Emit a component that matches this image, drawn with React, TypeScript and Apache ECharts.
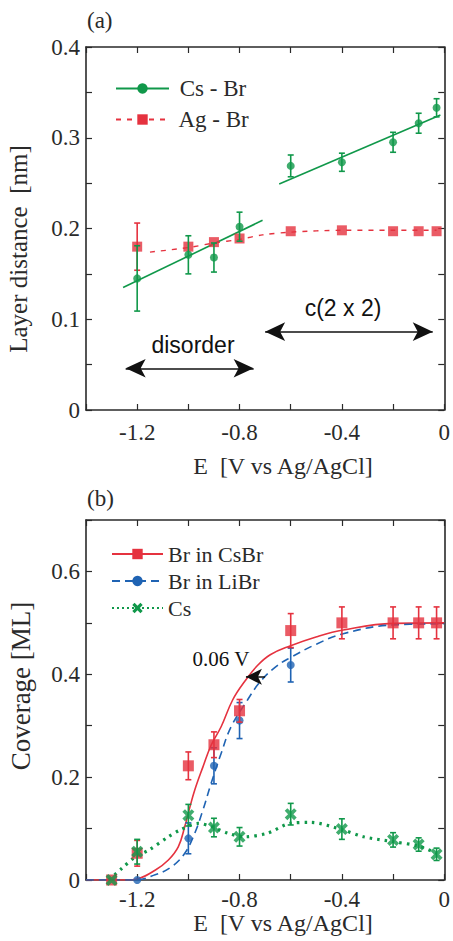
import React, { useEffect, useRef } from "react";
import * as echarts from "echarts";

// ---------- Panel (a) data ----------
const aX = [-1.2, -1.0, -0.9, -0.8, -0.6, -0.4, -0.2, -0.1, -0.03];
const csBrY = [0.145, 0.171, 0.168, 0.202, 0.269, 0.273, 0.295, 0.316, 0.333];
const csBrErr = [0.036, 0.021, 0.016, 0.016, 0.012, 0.01, 0.011, 0.011, 0.01];
const agBrY = [0.18, 0.18, 0.185, 0.189, 0.197, 0.198, 0.197, 0.197, 0.197];
const agBrErr = [0.026, 0, 0, 0, 0, 0, 0, 0, 0];
const csFit1X = [-1.255, -0.71];
const csFit1Y = [0.135, 0.209];
const csFit2X = [-0.645, -0.015];
const csFit2Y = [0.249, 0.325];
const agFitX = [-1.15, -1.0, -0.9, -0.8, -0.71, -0.6, -0.4, -0.2, -0.03];
const agFitY = [0.174, 0.179, 0.184, 0.188, 0.193, 0.196, 0.198, 0.198, 0.198];

// ---------- Panel (b) data ----------
const bX = [-1.3, -1.2, -1.0, -0.9, -0.8, -0.6, -0.4, -0.2, -0.1, -0.03];
const brCsY = [0, 0.052, 0.222, 0.263, 0.329, 0.485, 0.5, 0.5, 0.5, 0.5];
const brCsErr = [0, 0.025, 0.027, 0.025, 0.022, 0.033, 0.031, 0.031, 0.031, 0.031];
const brLiX = [-1.2, -1.0, -0.9, -0.8, -0.6];
const brLiY = [0, 0.081, 0.222, 0.31, 0.418];
const brLiErr = [0, 0.03, 0.035, 0.035, 0.033];
const csY = [0, 0.055, 0.126, 0.102, 0.084, 0.128, 0.099, 0.078, 0.069, 0.05];
const csErr = [0, 0.024, 0.021, 0.018, 0.018, 0.021, 0.02, 0.014, 0.013, 0.012];

const redFitX = [-1.4, -1.25, -1.194, -1.13, -1.078, -1.039, -1.014, -0.995, -0.975, -0.943, -0.911, -0.872, -0.827, -0.78, -0.73, -0.68, -0.603, -0.498, -0.395, -0.2, 0];
const redFitY = [0, 0, 0.003, 0.019, 0.039, 0.065, 0.104, 0.14, 0.175, 0.22, 0.262, 0.298, 0.35, 0.386, 0.417, 0.438, 0.455, 0.473, 0.486, 0.499, 0.5];
const blueFitX = [-1.4, -1.21, -1.13, -1.065, -1.014, -0.975, -0.943, -0.911, -0.872, -0.833, -0.769, -0.72, -0.66, -0.603, -0.498, -0.395, -0.2, 0];
const blueFitY = [0, 0, 0.01, 0.026, 0.052, 0.091, 0.136, 0.188, 0.246, 0.298, 0.35, 0.385, 0.414, 0.432, 0.459, 0.479, 0.496, 0.498];
const greenFitX = [-1.31, -1.259, -1.207, -1.155, -1.078, -1.033, -0.962, -0.911, -0.846, -0.781, -0.691, -0.603, -0.523, -0.4, -0.315, -0.2, -0.1, -0.03];
const greenFitY = [0, 0.023, 0.045, 0.058, 0.084, 0.097, 0.11, 0.104, 0.091, 0.084, 0.091, 0.11, 0.112, 0.098, 0.084, 0.0745, 0.066, 0.052];

// tick settings
const xMin = -1.4, xMax = 0, xStep = 0.2;
const aYMax = 0.4, aYStep = 0.05;
const bYMax = 0.7, bYStep = 0.1;

const GREEN = "#10984a";
const RED = "#e5323f";
const BLUE = "#1f63b3";
const INK = "#2a2a2a";
const SERIF = "'Liberation Serif', 'Times New Roman', serif";
const SANS = "'Liberation Sans', Arial, sans-serif";
const CROSS = "path://M2.2,0 L5,2.8 L7.8,0 L10,2.2 L7.2,5 L10,7.8 L7.8,10 L5,7.2 L2.2,10 L0,7.8 L2.8,5 L0,2.2 Z";

const zip = (xs: number[], ys: number[]) => xs.map((x, i) => [x, ys[i]]);
const zip3 = (xs: number[], ys: number[], es: number[]) => xs.map((x, i) => [x, ys[i], es[i]]);

function errorBars(data: number[][], color: string, xi: number, yi: number, z: number) {
  return {
    type: "custom",
    xAxisIndex: xi,
    yAxisIndex: yi,
    silent: true,
    z,
    data: data.filter((d) => d[2] > 0),
    renderItem: (_p: any, api: any) => {
      const x = api.value(0), y = api.value(1), e = api.value(2);
      const t = api.coord([x, y + e]);
      const b = api.coord([x, y - e]);
      const hw = 3;
      const st = { stroke: color, lineWidth: 1.6 };
      return {
        type: "group",
        children: [
          { type: "line", shape: { x1: t[0], y1: t[1], x2: b[0], y2: b[1] }, style: st },
          { type: "line", shape: { x1: t[0] - hw, y1: t[1], x2: t[0] + hw, y2: t[1] }, style: st },
          { type: "line", shape: { x1: b[0] - hw, y1: b[1], x2: b[0] + hw, y2: b[1] }, style: st },
        ],
      };
    },
  };
}

function xAxes(grid: number, labelMargin: number) {
  const common = {
    type: "value",
    gridIndex: grid,
    min: xMin,
    max: xMax,
    interval: xStep,
    splitLine: { show: false },
    axisLine: { show: true, onZero: false, lineStyle: { color: INK, width: 1.6 } },
    axisTick: { show: true, inside: true, length: 6, lineStyle: { color: INK, width: 1.2 } },
  };
  return [
    {
      ...common,
      position: "bottom",
      axisLabel: {
        margin: labelMargin,
        fontFamily: SERIF,
        fontSize: 23,
        color: INK,
        formatter: (v: number) => {
          const r = Math.round(v * 10);
          if (r % 4 !== 0) return "";
          return r === 0 ? "0" : v.toFixed(1);
        },
      },
    },
    { ...common, position: "top", axisLabel: { show: false } },
  ];
}

function yAxes(grid: number, max: number, step: number, labelEvery: number) {
  const common = {
    type: "value",
    gridIndex: grid,
    min: 0,
    max,
    interval: step,
    splitLine: { show: false },
    axisLine: { show: true, onZero: false, lineStyle: { color: INK, width: 1.6 } },
    axisTick: { show: true, inside: true, length: 6, lineStyle: { color: INK, width: 1.2 } },
  };
  return [
    {
      ...common,
      position: "left",
      axisLabel: {
        margin: 6,
        fontFamily: SERIF,
        fontSize: 23,
        color: INK,
        formatter: (v: number) => {
          const r = Math.round(v * 100);
          if (r % labelEvery !== 0) return "";
          return r === 0 ? "0" : v.toFixed(1);
        },
      },
    },
    { ...common, position: "right", axisLabel: { show: false } },
  ];
}

const arrowLine = { color: "#111", width: 1.5, type: "solid" };

export default function App() {
  const ref = useRef<HTMLDivElement>(null);
  useEffect(() => {
    if (!ref.current) return;
    const chart = echarts.init(ref.current, undefined, { renderer: "svg" });
    const option: any = {
      animation: false,
      backgroundColor: "#ffffff",
      grid: [
        { left: 86, right: 6, top: 47, height: 363 },
        { left: 86, right: 6, top: 520, height: 360 },
      ],
      xAxis: [...xAxes(0, 11), ...xAxes(1, 8)],
      yAxis: [...yAxes(0, aYMax, aYStep, 10), ...yAxes(1, bYMax, bYStep, 20)],
      legend: [
        {
          orient: "vertical",
          left: 110,
          top: 72,
          itemWidth: 53,
          itemHeight: 13,
          itemGap: 8,
          formatter: " {name}",
          textStyle: { fontFamily: SERIF, fontSize: 23, color: INK },
          data: ["Cs - Br", "Ag - Br"],
          selectedMode: false,
        },
        {
          orient: "vertical",
          left: 106,
          top: 538,
          itemWidth: 51,
          itemHeight: 13,
          itemGap: 5,
          formatter: "{name}",
          textStyle: { fontFamily: SERIF, fontSize: 22, color: INK },
          data: ["Br in CsBr", "Br in LiBr", "Cs"],
          selectedMode: false,
        },
      ],
      graphic: [
        { type: "text", left: 87, top: 9, style: { text: "(a)", font: `23px ${SERIF}`, fill: INK } },
        { type: "text", left: 87, top: 487, style: { text: "(b)", font: `23px ${SERIF}`, fill: INK } },
        {
          type: "text", x: 283, y: 466,
          style: { text: "E\u00a0 [V vs Ag/AgCl]", font: `24px ${SERIF}`, fill: INK, textAlign: "center", textVerticalAlign: "middle" },
        },
        {
          type: "text", x: 283, y: 923,
          style: { text: "E\u00a0 [V vs Ag/AgCl]", font: `24px ${SERIF}`, fill: INK, textAlign: "center", textVerticalAlign: "middle" },
        },
        {
          type: "text", x: 18, y: 249, rotation: Math.PI / 2,
          style: { text: "Layer distance\u00a0 [nm]", font: `25px ${SERIF}`, fill: INK, textAlign: "center", textVerticalAlign: "middle" },
        },
        {
          type: "text", x: 21, y: 686, rotation: Math.PI / 2,
          style: { text: "Coverage [ML]", font: `27px ${SERIF}`, fill: INK, textAlign: "center", textVerticalAlign: "middle" },
        },
        {
          type: "text", x: 193, y: 345,
          style: { text: "disorder", font: `23px ${SANS}`, fill: "#111", textAlign: "center", textVerticalAlign: "middle" },
        },
        {
          type: "text", x: 343, y: 308,
          style: { text: "c(2 x 2)", font: `23px ${SANS}`, fill: "#111", textAlign: "center", textVerticalAlign: "middle" },
        },
        {
          type: "text", x: 221, y: 659,
          style: { text: "0.06 V", font: `21px ${SERIF}`, fill: "#111", textAlign: "center", textVerticalAlign: "middle" },
        },
      ],
      series: [
        // legend-only series, panel (a)
        {
          name: "Cs - Br", type: "line", xAxisIndex: 0, yAxisIndex: 0, data: [],
          symbol: "circle", symbolSize: 11, itemStyle: { color: GREEN },
          lineStyle: { color: GREEN, width: 1.6, type: "solid" },
        },
        {
          name: "Ag - Br", type: "line", xAxisIndex: 0, yAxisIndex: 0, data: [],
          symbol: "rect", symbolSize: 12, itemStyle: { color: RED },
          lineStyle: { color: RED, width: 1.4, type: [5, 6] },
        },
        // fits panel (a)
        {
          type: "line", xAxisIndex: 0, yAxisIndex: 0, data: zip(csFit1X, csFit1Y), showSymbol: false,
          lineStyle: { color: GREEN, width: 1.6 }, z: 2, silent: true,
          markLine: {
            silent: true, symbol: ["arrow", "arrow"], symbolSize: [14, 20],
            lineStyle: arrowLine, label: { show: false },
            data: [
              [{ coord: [-1.245, 0.046] }, { coord: [-0.745, 0.046] }],
              [{ coord: [-0.70, 0.0863] }, { coord: [-0.045, 0.0863] }],
            ],
          },
        },
        {
          type: "line", xAxisIndex: 0, yAxisIndex: 0, data: zip(csFit2X, csFit2Y), showSymbol: false,
          lineStyle: { color: GREEN, width: 1.6 }, z: 2, silent: true,
        },
        {
          type: "line", xAxisIndex: 0, yAxisIndex: 0, data: zip(agFitX, agFitY), showSymbol: false, smooth: 0.3,
          lineStyle: { color: RED, width: 1.4, type: [5, 6] }, z: 2, silent: true,
        },
        errorBars(zip3(aX, agBrY, agBrErr), RED, 0, 0, 3),
        {
          type: "scatter", xAxisIndex: 0, yAxisIndex: 0, data: zip(aX, agBrY),
          symbol: "rect", symbolSize: 10, itemStyle: { color: RED }, z: 4, silent: true,
        },
        errorBars(zip3(aX, csBrY, csBrErr), GREEN, 0, 0, 5),
        {
          type: "scatter", xAxisIndex: 0, yAxisIndex: 0, data: zip(aX, csBrY),
          symbol: "circle", symbolSize: 8, itemStyle: { color: GREEN }, z: 6, silent: true,
        },

        // legend-only series, panel (b)
        {
          name: "Br in CsBr", type: "line", xAxisIndex: 2, yAxisIndex: 2, data: [],
          symbol: "rect", symbolSize: 12, itemStyle: { color: RED },
          lineStyle: { color: RED, width: 1.6, type: "solid" },
        },
        {
          name: "Br in LiBr", type: "line", xAxisIndex: 2, yAxisIndex: 2, data: [],
          symbol: "circle", symbolSize: 11, itemStyle: { color: BLUE },
          lineStyle: { color: BLUE, width: 1.6, type: [8, 5] },
        },
        {
          name: "Cs", type: "line", xAxisIndex: 2, yAxisIndex: 2, data: [],
          symbol: CROSS, symbolSize: 12, itemStyle: { color: GREEN },
          lineStyle: { color: GREEN, width: 1.6, type: [2, 3] },
        },
        // fits panel (b)
        {
          type: "line", xAxisIndex: 2, yAxisIndex: 2, data: zip(redFitX, redFitY), showSymbol: false, smooth: 0.4,
          lineStyle: { color: RED, width: 1.6 }, z: 2, silent: true,
          markLine: {
            silent: true, symbol: ["none", "arrow"], symbolSize: [12, 16],
            lineStyle: arrowLine, label: { show: false },
            data: [[{ coord: [-0.70, 0.395] }, { coord: [-0.775, 0.395] }]],
          },
        },
        {
          type: "line", xAxisIndex: 2, yAxisIndex: 2, data: zip(blueFitX, blueFitY), showSymbol: false, smooth: 0.4,
          lineStyle: { color: BLUE, width: 1.6, type: [8, 5] }, z: 2, silent: true,
        },
        {
          type: "line", xAxisIndex: 2, yAxisIndex: 2, data: zip(greenFitX, greenFitY), showSymbol: false, smooth: 0.3,
          lineStyle: { color: GREEN, width: 3.2, type: [2.5, 5] }, z: 2, silent: true,
        },
        errorBars(zip3(brLiX, brLiY, brLiErr), BLUE, 2, 2, 3),
        {
          type: "scatter", xAxisIndex: 2, yAxisIndex: 2, data: zip(brLiX, brLiY),
          symbol: "circle", symbolSize: 8, itemStyle: { color: BLUE }, z: 4, silent: true,
        },
        errorBars(zip3(bX, brCsY, brCsErr), RED, 2, 2, 5),
        {
          type: "scatter", xAxisIndex: 2, yAxisIndex: 2, data: zip(bX, brCsY),
          symbol: "rect", symbolSize: 11, itemStyle: { color: RED }, z: 6, silent: true,
        },
        errorBars(zip3(bX, csY, csErr), GREEN, 2, 2, 7),
        {
          type: "scatter", xAxisIndex: 2, yAxisIndex: 2, data: zip(bX, csY),
          symbol: CROSS, symbolSize: 12, itemStyle: { color: GREEN }, z: 8, silent: true,
        },
      ],
    };
    chart.setOption(option);
    return () => chart.dispose();
  }, []);
  return (
    <div
      ref={ref}
      style={{ position: "fixed", left: 0, top: 0, width: 453, height: 941, background: "#fff" }}
    />
  );
}
